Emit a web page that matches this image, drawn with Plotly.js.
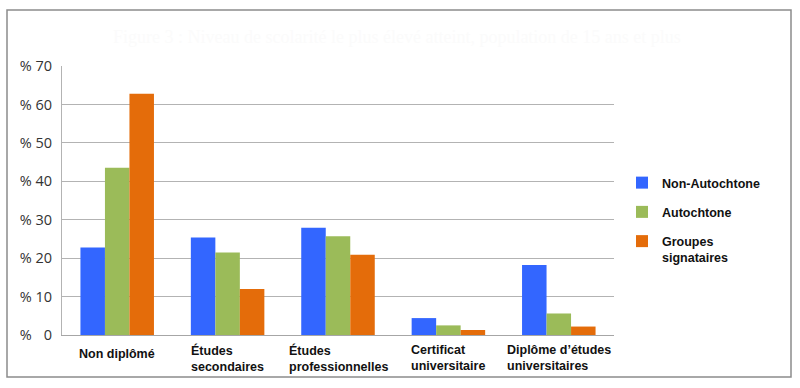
<!DOCTYPE html>
<html>
<head>
<meta charset="utf-8">
<script src="https://cdn.plot.ly/plotly-3.0.1.min.js"></script>
<style>html,body{margin:0;padding:0;background:#fff;}#chart{width:800px;height:388px;}</style>
</head>
<body>
<div id="chart"></div>
<script>
const categories = ["Non diplômé", "Études<br>secondaires", "Études<br>professionnelles", "Certificat<br>universitaire", "Diplôme d’études<br>universitaires"];
const seriesNames = ["Non-Autochtone", "Autochtone", "Groupes<br>signataires"];
const nonAutochtone = [22.8, 25.4, 27.9, 4.4, 18.2];
const autochtone = [43.5, 21.5, 25.7, 2.5, 5.6];
const groupesSignataires = [62.8, 12.0, 20.9, 1.3, 2.2];
const tickVals = [0, 10, 20, 30, 40, 50, 60, 70];
const tickText = ["%\u00a0\u20070", "% 10", "% 20", "% 30", "% 40", "% 50", "% 60", "% 70"];
const colors = ["#3366ff", "#9bbb59", "#e46c0a"];
const titleText = "Figure 3 : Niveau de scolarité le plus élevé atteint, population de 15 ans et plus";

const series = [nonAutochtone, autochtone, groupesSignataires];
const traces = series.map((vals, i) => ({
  type: "bar",
  x: categories.map((c, k) => k),
  y: vals,
  name: "<b>" + seriesNames[i] + "</b>",
  legendgroup: "g" + i,
  marker: {color: colors[i], line: {width: 0}},
  hoverinfo: "y"
}));

const annotations = categories.map((c, k) => ({
  x: k, y: 0, xref: "x", yref: "paper",
  yshift: c.indexOf("<br>") >= 0 ? -6 : -10,
  text: "<b>" + c + "</b>",
  showarrow: false, xanchor: "center", yanchor: "top", align: "left",
  font: {family: "Liberation Sans, Arial, sans-serif", size: 12.5, color: "#111"}
}));
annotations.push({
  x: 0.5, y: 37, xref: "paper", yref: "paper", showarrow: false,
  text: titleText, xanchor: "center", yanchor: "middle",
  font: {family: "Liberation Serif, serif", size: 18, color: "#fbfbfb"}
});

const layout = {
  width: 800, height: 388,
  margin: {l: 62, r: 186, t: 66, b: 53},
  paper_bgcolor: "#fff", plot_bgcolor: "#fff",
  showlegend: true,
  barmode: "group", bargap: 0.334, bargroupgap: 0,
  xaxis: {
    range: [-0.5, 4.5], showticklabels: false, showgrid: false, zeroline: false,
    showline: true, linecolor: "#a6a6a6", linewidth: 1, ticks: "", fixedrange: true
  },
  yaxis: {
    range: [0, 70], tickvals: tickVals, ticktext: tickText,
    showgrid: true, gridcolor: "#b3b3b3", gridwidth: 1,
    zeroline: false, showline: true, linecolor: "#b3b3b3", linewidth: 1,
    ticks: "", ticklen: 0, ticklabelstandoff: 6,
    tickfont: {family: "Open Sans, DejaVu Sans, sans-serif", size: 14.5, color: "#333"},
    fixedrange: true
  },
  legend: {
    x: 0, xref: "paper", y: 0, yref: "paper",
    xanchor: "left", yanchor: "top",
    traceorder: "grouped", tracegroupgap: 10, valign: "top",
    font: {family: "Liberation Sans, Arial, sans-serif", size: 12.5, color: "#111"},
    bgcolor: "rgba(0,0,0,0)", itemwidth: 30
  },
  shapes: [{
    type: "rect", xref: "paper", yref: "paper",
    x0: 0, x1: 1, y0: 0, y1: 1, line: {color: "#8c8c8c", width: 1.5}
  }],
  annotations: annotations
};

// Convert pixel positions for legend, title and frame into paper coords
const plotW = 800 - 62 - 186, plotH = 388 - 66 - 53;
const px = x => (x - 62) / plotW;
const py = y => (388 - 53 - y) / plotH;
layout.legend.x = px(622);
layout.legend.y = py(168);
annotations[annotations.length - 1].x = px(397);
annotations[annotations.length - 1].y = py(37);
layout.shapes[0].x0 = px(7);
layout.shapes[0].x1 = px(791);
layout.shapes[0].y0 = py(377);
layout.shapes[0].y1 = py(10);

Plotly.newPlot("chart", traces, layout, {staticPlot: true});
</script>
</body>
</html>
